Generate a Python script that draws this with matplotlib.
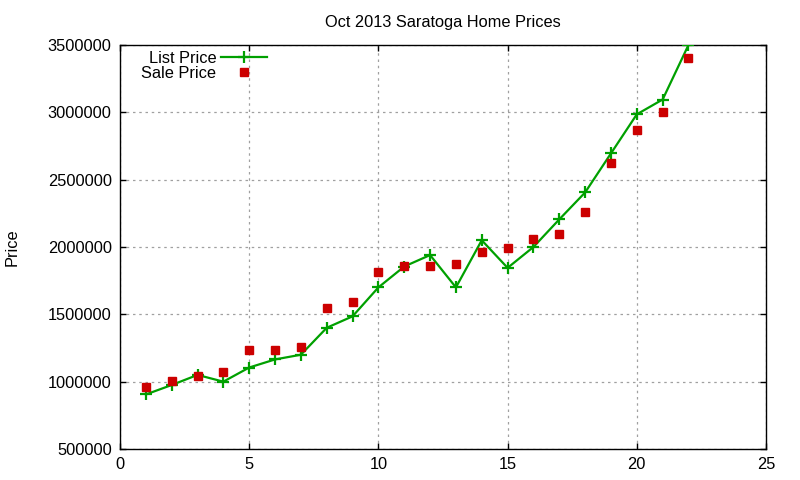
import matplotlib
matplotlib.use("Agg")
import matplotlib.pyplot as plt

plt.rcParams['font.family'] = ['Liberation Sans', 'DejaVu Sans']

days = list(range(1, 23))
list_price = [905000, 975000, 1050000, 1000000, 1105000, 1165000, 1200000, 1400000,
              1485000, 1700000, 1855000, 1940000, 1700000, 2050000, 1845000, 2000000,
              2205000, 2405000, 2695000, 2985000, 3095000, 3500000]
sale_price = [960000, 1002000, 1040000, 1070000, 1233000, 1233000, 1255000, 1545000,
              1590000, 1812000, 1857000, 1857000, 1872000, 1966000, 1996000, 2062000,
              2100000, 2257000, 2621000, 2870000, 3002000, 3405000]
x_ticks = [0, 5, 10, 15, 20, 25]
y_ticks = [500000, 1000000, 1500000, 2000000, 2500000, 3000000, 3500000]

fig = plt.figure(figsize=(8, 4.8), dpi=100)
ax = fig.add_axes([0.15, 0.0646, 0.8075, 0.8417])

ax.plot(days, list_price, color='#00a000', linewidth=1.6, marker='+',
        markersize=8, markeredgewidth=1.6, label='List Price', zorder=3)
ax.plot(days, sale_price, linestyle='none', marker='s', color='#cc0000',
        markersize=5.8, label='Sale Price', zorder=4)

ax.set_xlim(0, 25)
ax.set_ylim(500000, 3500000)
ax.set_xticks(x_ticks)
ax.set_yticks(y_ticks)
ax.set_yticklabels([str(v) for v in y_ticks])
ax.tick_params(direction='in', length=4, width=1, top=True, right=True,
               labelsize=11.8, pad=6)
for s in ax.spines.values():
    s.set_linewidth(1.0)
ax.grid(True, color='#a0a0a0', linestyle=(0, (2, 3)), linewidth=0.9)
ax.set_axisbelow(True)

ax.set_title('Oct 2013 Saratoga Home Prices', fontsize=11.8, pad=13)
ax.set_ylabel('Price', fontsize=11.8, labelpad=20)

ax.legend(loc='upper right', bbox_to_anchor=(0.2276, 0.985), frameon=False,
          markerfirst=False, fontsize=11.8, handlelength=2.8, handletextpad=0.3,
          labelspacing=0.0, borderaxespad=0.0, borderpad=0.0)

fig.savefig('out.png', dpi=100)
